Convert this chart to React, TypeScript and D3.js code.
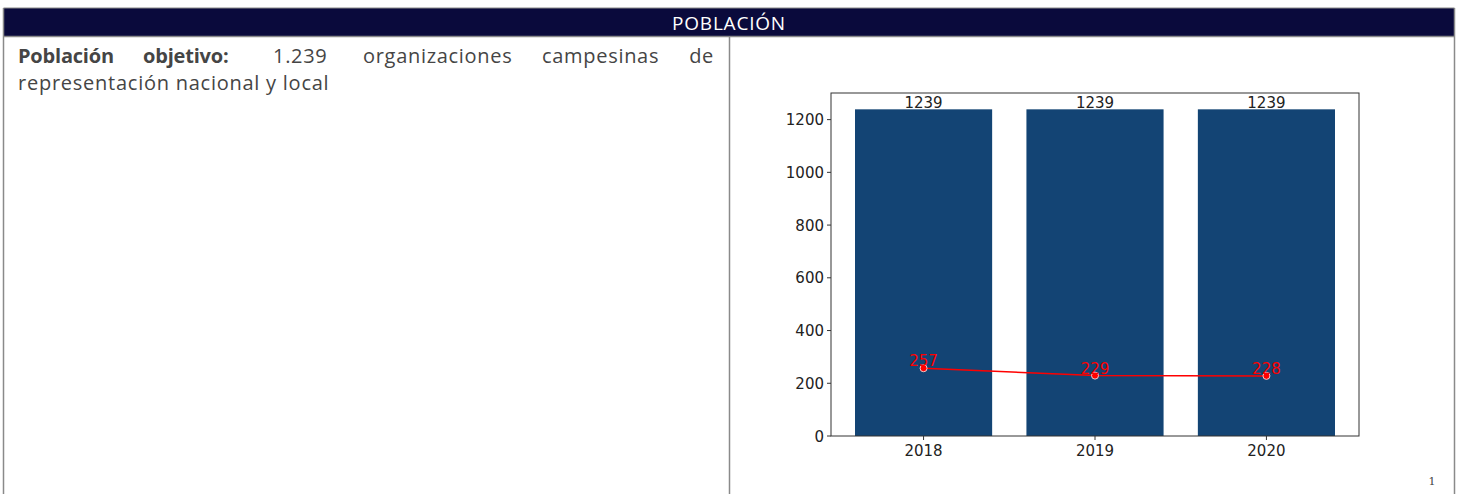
import React from "react";
import * as d3 from "d3";

const years = ["2018", "2019", "2020"];
const barValues = [1239, 1239, 1239];
const lineValues = [257, 229, 228];
const yTicks = [0, 200, 400, 600, 800, 1000, 1200];
const headerTitle = "POBLACIÓN";
const line1Words = ["Población", "objetivo:", "1.239", "organizaciones", "campesinas", "de"];
const line1Bold = [true, true, false, false, false, false];
const line2Text = "representación nacional y local";

const W = 1462;
const H = 494;

export default function App() {
  const plotL = 831, plotR = 1359, plotT = 93, plotB = 436;
  const x = d3.scaleLinear().domain([-0.54, 2.54]).range([plotL, plotR]);
  const yMax = d3.max(barValues)! * 1.05;
  const y = d3.scaleLinear().domain([0, yMax]).range([plotB, plotT]);
  const bw = x(0.8) - x(0);
  const lineGen = d3
    .line<number>()
    .x((_, i) => x(i))
    .y((d) => y(d));

  const textL = 18, textR = 714;
  const wordStarts = [textL, 143, 273, 363, 542];
  const fontText = "'Open Sans', 'Liberation Sans', sans-serif";

  const grey = "#8a8a8a";
  const chartFont = "'DejaVu Sans', sans-serif";

  return (
    <svg
      width={W}
      height={H}
      style={{ position: "absolute", left: 0, top: 0, background: "#fff" }}
    >
      {/* header */}
      <rect x={4} y={8} width={1450} height={28} fill="#0a0a3c" />
      <text
        x={729}
        y={30}
        fill="#fff"
        fontFamily={fontText}
        fontSize={19}
        letterSpacing={0.8}
        textAnchor="middle"
      >
        {headerTitle}
      </text>
      {/* borders */}
      <line x1={3.5} y1={8} x2={1454.5} y2={8} stroke={grey} strokeWidth={1.2} />
      <line x1={3.5} y1={36.5} x2={1454.5} y2={36.5} stroke={grey} strokeWidth={1.5} />
      <line x1={3.5} y1={8} x2={3.5} y2={H} stroke={grey} strokeWidth={1.5} />
      <line x1={729.5} y1={36} x2={729.5} y2={H} stroke={grey} strokeWidth={1.5} />
      <line x1={1454.5} y1={8} x2={1454.5} y2={H} stroke={grey} strokeWidth={1.5} />

      {/* left text */}
      <text fontFamily={fontText} fontSize={20} fill="#454545" y={63}>
        {line1Words.map((w, i) => (
          <tspan
            key={i}
            x={i === line1Words.length - 1 ? textR : wordStarts[i]}
            textAnchor={i === line1Words.length - 1 ? "end" : "start"}
            fontWeight={line1Bold[i] ? "bold" : "normal"}
            letterSpacing={line1Bold[i] ? -0.2 : 0.7}
          >
            {w}
          </tspan>
        ))}
      </text>
      <text x={textL} y={90} fontFamily={fontText} fontSize={20} fill="#454545" letterSpacing={0.75}>
        {line2Text}
      </text>

      {/* chart */}
      {barValues.map((v, i) => (
        <rect
          key={i}
          x={x(i) - bw / 2}
          y={y(v)}
          width={bw}
          height={y(0) - y(v)}
          fill="#134474"
        />
      ))}
      {barValues.map((v, i) => (
        <text
          key={"bl" + i}
          x={x(i)}
          y={y(v) - 1}
          textAnchor="middle"
          fontFamily={chartFont}
          fontSize={15}
          fill="#222"
        >
          {v}
        </text>
      ))}
      <path d={lineGen(lineValues)!} fill="none" stroke="#ff0000" strokeWidth={1.5} />
      {lineValues.map((v, i) => (
        <circle key={"c" + i} cx={x(i)} cy={y(v)} r={3.5} fill="#ff0000" stroke="#f4cccc" strokeWidth={1} />
      ))}
      {lineValues.map((v, i) => (
        <text
          key={"ll" + i}
          x={x(i)}
          y={y(v) - 2}
          textAnchor="middle"
          fontFamily={chartFont}
          fontSize={15}
          fill="#ff0000"
        >
          {v}
        </text>
      ))}
      {/* axes frame */}
      <rect x={plotL} y={plotT} width={plotR - plotL} height={plotB - plotT} fill="none" stroke="#333" strokeWidth={1} />
      {yTicks.map((t) => (
        <g key={"yt" + t}>
          <line x1={plotL - 4} x2={plotL} y1={y(t)} y2={y(t)} stroke="#333" />
          <text
            x={plotL - 7}
            y={y(t) + 5.5}
            textAnchor="end"
            fontFamily={chartFont}
            fontSize={15}
            fill="#222"
          >
            {t}
          </text>
        </g>
      ))}
      {years.map((yr, i) => (
        <g key={"xt" + i}>
          <line x1={x(i)} x2={x(i)} y1={plotB} y2={plotB + 4} stroke="#333" />
          <text
            x={x(i)}
            y={plotB + 20}
            textAnchor="middle"
            fontFamily={chartFont}
            fontSize={15}
            fill="#222"
          >
            {yr}
          </text>
        </g>
      ))}

      {/* page number */}
      <text x={1432} y={485} fontFamily="'DejaVu Serif', serif" fontSize={11} fill="#444" textAnchor="middle">
        1
      </text>
    </svg>
  );
}
